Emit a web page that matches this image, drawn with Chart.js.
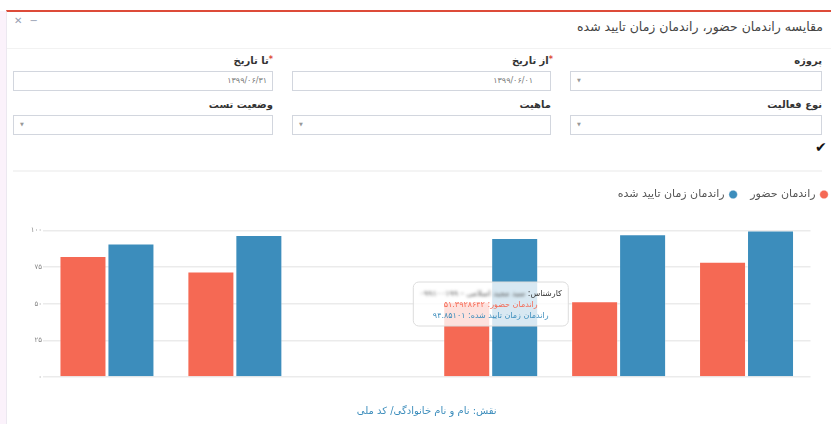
<!DOCTYPE html>
<html lang="fa">
<head>
<meta charset="utf-8">
<title>مقایسه راندمان</title>
<script src="https://cdn.jsdelivr.net/npm/chart.js@4.4.1/dist/chart.umd.min.js"></script>
<style>
  body { margin:0; width:831px; height:424px; overflow:hidden; position:relative; background:#fff; font-family:"DejaVu Sans", sans-serif; color:#333; }
  .side { position:absolute; left:0; top:11px; width:6px; bottom:0; background:#fbf2fb; }
  .panel { position:absolute; left:6px; top:10px; right:-10px; bottom:-10px; border-top:2px solid #dd4b39; border-left:1px solid #ece8f0; }
  .tools { position:absolute; left:14px; top:15px; font-size:10px; color:#97a0b3; }
  .tools span { margin-right:7px; }
  .head { position:absolute; right:8px; top:19px; font-size:12.5px; color:#444; direction:rtl; white-space:nowrap; }
  .hline { position:absolute; left:7px; right:0; top:48px; height:1px; background:#f2f2f2; }
  .lbl { position:absolute; direction:rtl; font-size:10px; font-weight:bold; color:#333; white-space:nowrap; }
  .lbl .req { color:#dd4b39; font-size:8px; vertical-align:top; }
  .fld { position:absolute; height:20px; box-sizing:border-box; border:1px solid #d2d6de; background:#fff; }
  .fld .v { position:absolute; top:4px; font-size:8px; color:#777; direction:ltr; }
  .fld .arr { position:absolute; left:6px; top:5px; font-size:5px; color:#999; }
  .check { position:absolute; left:815px; top:139px; font-size:14px; font-weight:bold; color:#111; }
  .sep { position:absolute; left:13px; right:9px; top:170px; height:2px; background:#f4f4f4; }
  #wrap { position:absolute; left:13px; top:175px; width:828px; height:249px; }
  #tip { position:absolute; opacity:0; transform:translate(-50%,-50%); background:rgba(255,255,255,0.8); border:1px solid #dcdcdc; border-radius:6px; padding:5px 6px; text-align:center; direction:rtl; font-size:8px; line-height:11px; white-space:nowrap; pointer-events:none; }
  #tip .name { filter:blur(1.6px); color:#555; }
</style>
</head>
<body>
<div class="side"></div>
<div class="panel"></div>
<div class="tools"><span>✕</span><span>−</span></div>
<div class="head">مقایسه راندمان حضور، راندمان زمان تایید شده</div>
<div class="hline"></div>

<div class="lbl" style="right:9px;top:55px">پروژه</div>
<div class="lbl" style="right:278px;top:55px"><span class="req">*</span>از تاریخ</div>
<div class="lbl" style="right:558px;top:55px"><span class="req">*</span>تا تاریخ</div>
<div class="fld" style="left:570px;top:71px;width:252px"><span class="arr">▼</span></div>
<div class="fld" style="left:292px;top:71px;width:259px"><span class="v" style="right:17px">۱۳۹۹/۰۶/۰۱</span></div>
<div class="fld" style="left:13px;top:71px;width:260px"><span class="v" style="right:5px">۱۳۹۹/۰۶/۳۱</span></div>

<div class="lbl" style="right:9px;top:99px">نوع فعالیت</div>
<div class="lbl" style="right:280px;top:99px">ماهیت</div>
<div class="lbl" style="right:558px;top:99px">وضعیت تست</div>
<div class="fld" style="left:570px;top:115px;width:252px"><span class="arr">▼</span></div>
<div class="fld" style="left:292px;top:115px;width:259px"><span class="arr">▼</span></div>
<div class="fld" style="left:13px;top:115px;width:260px"><span class="arr">▼</span></div>

<div class="check">✔</div>
<div class="sep"></div>

<div id="wrap">
  <canvas id="chart" width="828" height="249"></canvas>
  <div id="tip"></div>
</div>

<script>
// کارشناسان (نام ها در تصویر خوانا نیستند)
var experts = [
  'کارشناس یک - ۰۰۱۰۰۱۲۳۴۵',
  'کارشناس دو - ۰۰۲۰۰۱۲۳۴۵',
  'کارشناس سه - ۰۰۳۰۰۱۲۳۴۵',
  'سید مجید اسلامی - ۰۹۹۱۰۰۱۹۹',
  'کارشناس پنج - ۰۰۵۰۰۱۲۳۴۵',
  'کارشناس شش - ۰۰۶۰۰۱۲۳۴۵'
];
var attendance = [82.6, 71.9, null, 51.3928642, 51.6, 78.6];
var approvedTime = [91.0, 96.8, null, 94.85101, 97.4, 99.9];
var yTicks = ['۰', '۲۵', '۵۰', '۷۵', '۱۰۰'];
var xTitle = 'نقش: نام و نام خانوادگی/ کد ملی';

var red = '#f56954';
var blue = '#3c8dbc';

function faDigits(s) {
  return String(s).replace(/\d/g, function (d) { return '۰۱۲۳۴۵۶۷۸۹'[d]; });
}

Chart.defaults.font.family = '"DejaVu Sans", sans-serif';

function externalTooltip(context) {
  var chart = context.chart, tooltip = context.tooltip;
  var el = document.getElementById('tip');
  if (tooltip.opacity === 0 || !tooltip.dataPoints || !tooltip.dataPoints.length) {
    el.style.opacity = 0;
    return;
  }
  var i = tooltip.dataPoints[0].dataIndex;
  var html = '<div style="color:#333">کارشناس: <span class="name">' + experts[i] + '</span></div>';
  tooltip.dataPoints.forEach(function (p) {
    var c = p.datasetIndex === 0 ? red : blue;
    html += '<div style="color:' + c + '">' + p.dataset.label + ': ' + faDigits(p.raw) + '</div>';
  });
  el.innerHTML = html;
  var area = chart.chartArea;
  el.style.left = tooltip.caretX + 'px';
  el.style.top = (area.top + area.bottom) / 2 + 'px';
  el.style.opacity = 1;
}

var chart = new Chart(document.getElementById('chart'), {
  type: 'bar',
  data: {
    labels: experts,
    datasets: [
      {
        label: 'راندمان حضور',
        data: attendance,
        backgroundColor: red,
        borderColor: 'rgba(255,255,255,0.35)',
        borderWidth: 1
      },
      {
        label: 'راندمان زمان تایید شده',
        data: approvedTime,
        backgroundColor: blue,
        borderColor: 'rgba(255,255,255,0.35)',
        borderWidth: 1
      }
    ]
  },
  options: {
    responsive: false,
    animation: false,
    devicePixelRatio: 1,
    events: [],
    categoryPercentage: 0.75,
    barPercentage: 0.98,
    layout: { padding: 0 },
    plugins: {
      legend: {
        position: 'top',
        align: 'start',
        rtl: true,
        textDirection: 'rtl',
        labels: {
          usePointStyle: true,
          pointStyle: 'circle',
          boxWidth: 6,
          boxHeight: 6,
          padding: 14,
          color: '#555',
          font: { size: 11 }
        }
      },
      // فاصله بین راهنما و نمودار
      title: {
        display: true,
        text: '',
        weight: 0,
        font: { size: 10, lineHeight: 1 },
        padding: { top: 0, bottom: 10.4 }
      },
      tooltip: {
        enabled: false,
        mode: 'index',
        intersect: false,
        external: externalTooltip
      }
    },
    scales: {
      x: {
        grid: { display: false },
        border: { display: false },
        ticks: { display: false },
        title: {
          display: true,
          text: xTitle,
          color: blue,
          font: { size: 10 },
          padding: { top: 0, bottom: 7 }
        },
        afterFit: function (s) { s.height = 47; }
      },
      y: {
        min: 0,
        max: 100,
        ticks: {
          stepSize: 25,
          color: '#888',
          font: { size: 7 },
          padding: 1,
          callback: function (v, i) { return yTicks[i]; }
        },
        grid: { color: '#ebebeb', lineWidth: 1.5, drawTicks: false },
        border: { display: false },
        afterFit: function (s) { s.width = 30; }
      },
      right: {
        position: 'right',
        display: true,
        grid: { display: false },
        border: { display: false },
        ticks: { display: false },
        afterFit: function (s) { s.width = 30.5; }
      }
    }
  }
});

chart.tooltip.setActiveElements([
  { datasetIndex: 0, index: 3 },
  { datasetIndex: 1, index: 3 }
], { x: 0, y: 0 });
</script>
</body>
</html>
